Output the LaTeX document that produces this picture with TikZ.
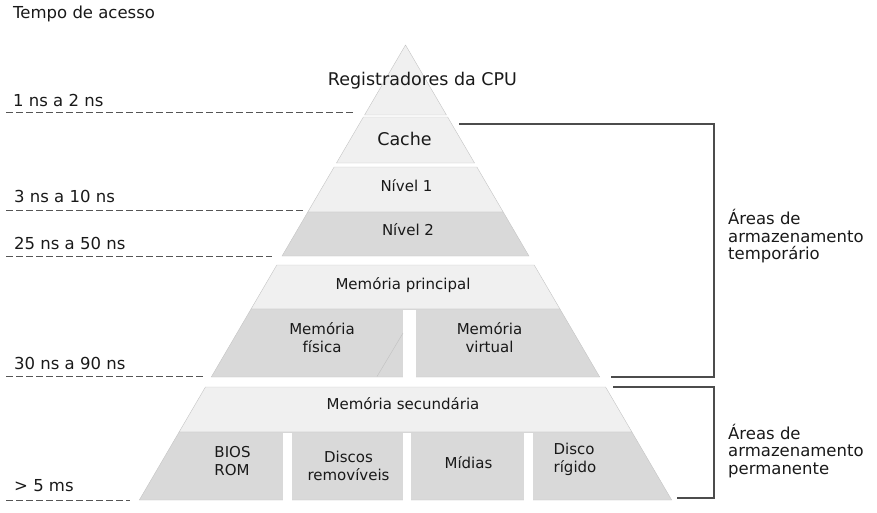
\documentclass[tikz,border=0pt]{standalone}
\usepackage{fontspec}
\setmainfont{DejaVu Sans}
\usetikzlibrary{calc}

\definecolor{bandlight}{HTML}{F0F0F0}
\definecolor{banddark}{HTML}{D9D9D9}
\definecolor{edgegray}{HTML}{C4C4C4}
\definecolor{linegray}{HTML}{555555}

% one band of the pyramid between two heights
\newcommand{\pyrband}[3]{%
  \path[#1] ({xl(#2)},#2) -- ({xr(#2)},#2) -- ({xr(#3)},#3) -- ({xl(#3)},#3) -- cycle;}

\begin{document}
\begin{tikzpicture}[
  x=1pt, y=-1pt,
  declare function={xl(\t)=405.5-0.585*(\t-45); xr(\t)=405.5+0.585*(\t-45);},
  light/.style={fill=bandlight, draw=edgegray, line width=0.4pt},
  dark/.style={fill=banddark, draw=edgegray, line width=0.4pt},
  gapbar/.style={fill=white, draw=none},
  timeline/.style={line width=0.9pt, linegray, dash pattern=on 7pt off 3pt},
  bracket/.style={line width=1.2pt, black!70},
  outlbl/.style={inner sep=0pt, font=\fontsize{16.5}{17.5}\selectfont, text=black!90},
  toplbl/.style={inner sep=0pt, font=\fontsize{17.5}{18}\selectfont, text=black!90},
  inlbl/.style={inner sep=0pt, font=\fontsize{15}{18}\selectfont, text=black!90}
]
\useasboundingbox (0,0) rectangle (877,512);

% Pyramid bands
\path[light] (405.5,45) -- ({xr(115)},115) -- ({xl(115)},115) -- cycle;
\pyrband{light}{117}{163}
\pyrband{light}{167}{212}
\pyrband{dark}{212}{256}
\pyrband{light}{265}{309}
\pyrband{dark}{309}{377}
\pyrband{light}{387}{432}
\pyrband{dark}{432}{500}

% Gaps between blocks
\fill[gapbar] (403,309.5) rectangle (416,378);
\draw[edgegray, line width=0.5pt] (403,333) -- (377,376.5);
\fill[gapbar] (283,432.5) rectangle (292,508);
\fill[gapbar] (403,432.5) rectangle (411,500.5);
\fill[gapbar] (524,432.5) rectangle (533,508);

% Labels in the pyramid
\node[toplbl, anchor=base] (reg)  at (422.5,85)  {Registradores da CPU};
\node[toplbl, anchor=base] (cache) at (404.5,145) {Cache};
\node[inlbl, anchor=base]  (n1)   at (406.5,191.5) {Nível 1};
\node[inlbl, anchor=base]  (n2)   at (408,235)   {Nível 2};
\node[inlbl, anchor=base]  (mp)   at (403,289)   {Memória principal};
\node[inlbl, align=center] (mf)   at (322,338)   {Memória\\física};
\node[inlbl, align=center] (mv)   at (489.5,338) {Memória\\virtual};
\node[inlbl, anchor=base]  (ms)   at (403,409)   {Memória secundária};
\node[inlbl, align=left]   (bios) at (232.5,461) {BIOS\\ROM};
\node[inlbl, align=center] (dr)   at (348.5,466) {Discos\\removíveis};
\node[inlbl]               (mid)  at (468.5,463) {Mídias};
\node[inlbl, align=left]   (dsk)  at (575,459)   {Disco\\rígido};

% Access times
\node[outlbl, anchor=base west] (tempo) at (13,18.5) {Tempo de acesso};
\node[outlbl, anchor=base west] (t1) at (13,106) {1 ns a 2 ns};
\node[outlbl, anchor=base west] (t2) at (14,202) {3 ns a 10 ns};
\node[outlbl, anchor=base west] (t3) at (14,249) {25 ns a 50 ns};
\node[outlbl, anchor=base west] (t4) at (14,369) {30 ns a 90 ns};
\node[outlbl, anchor=base west] (t5) at (14,491.5) {> 5 ms};

\draw[timeline] (6,112.7) -- (355,112.7);
\draw[timeline] (6,210) -- (303,210);
\draw[timeline] (6,256) -- (272,256);
\draw[timeline] (6,376) -- (205,376);
\draw[timeline] (6,500) -- (130,500);

% Storage areas
\draw[bracket] (459,124) -- (714,124) -- (714,377) -- (611,377);
\draw[bracket] (613,387) -- (714,387) -- (714,498) -- (677,498);
\node[outlbl, anchor=west, align=left] (temp) at (728,236.5) {Áreas de\\armazenamento\\temporário};
\node[outlbl, anchor=west, align=left] (perm) at (728,451) {Áreas de\\armazenamento\\permanente};

\end{tikzpicture}
\end{document}
